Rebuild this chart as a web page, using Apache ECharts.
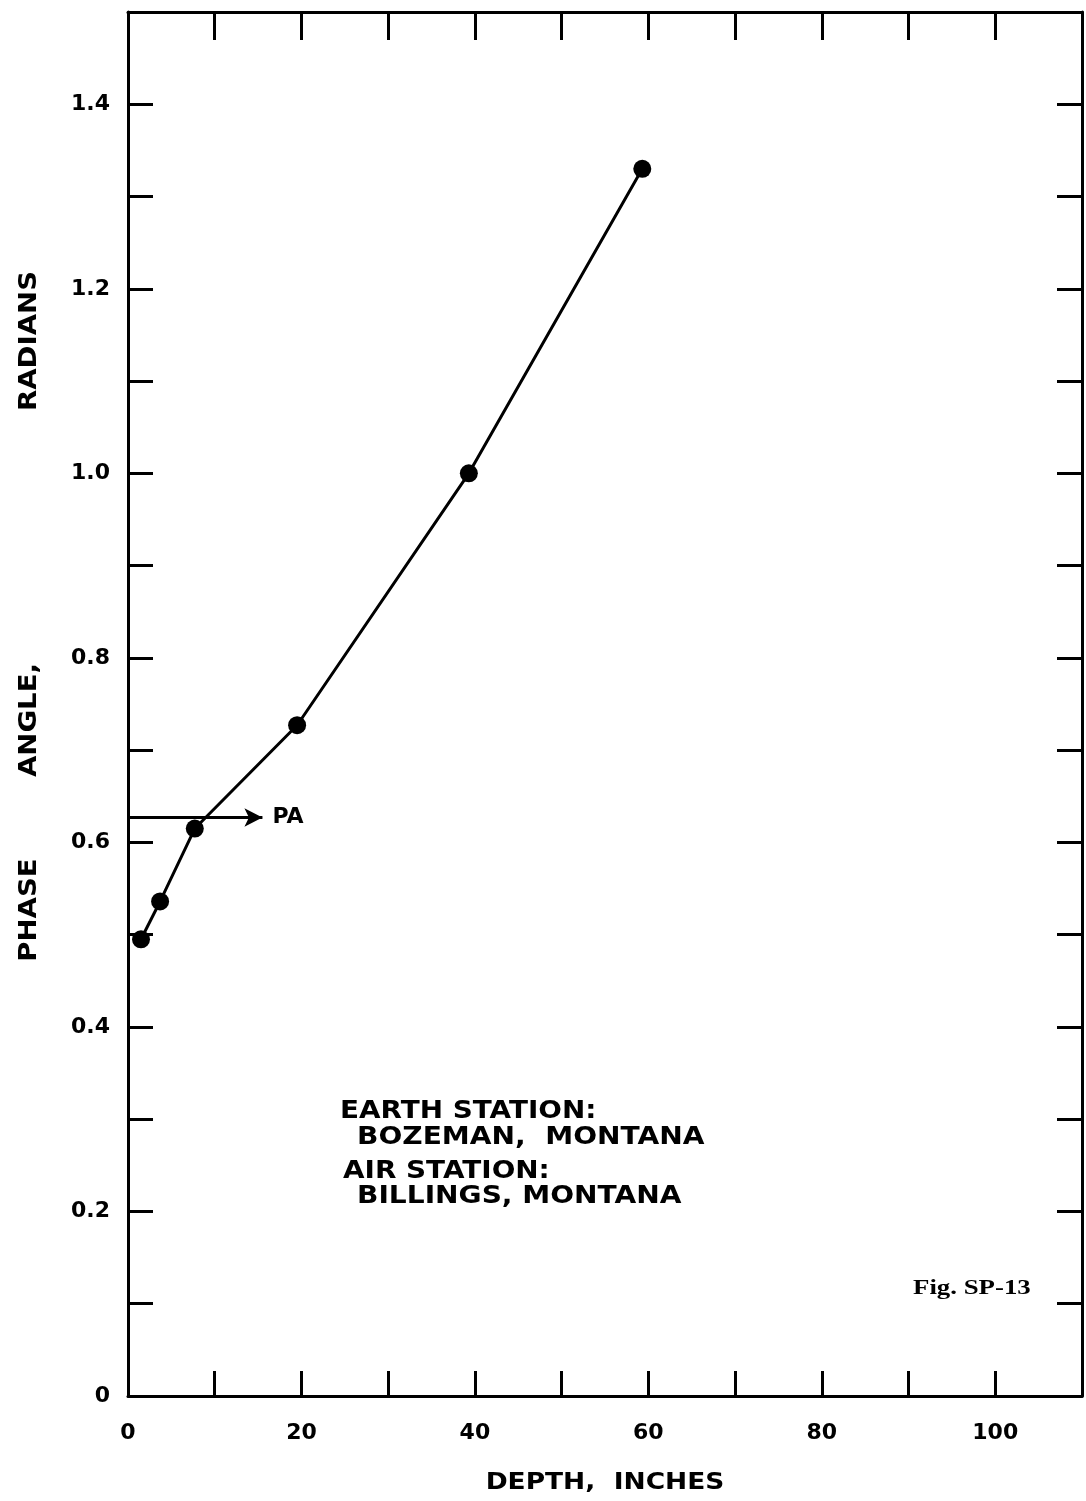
<!DOCTYPE html>
<html>
<head>
<meta charset="utf-8">
<script src="https://cdn.jsdelivr.net/npm/echarts@6/dist/echarts.min.js"></script>
<style>
html,body{margin:0;padding:0;background:#fff;}
#c{width:1086px;height:1501px;}
</style>
</head>
<body>
<div id="c"></div>
<script>
// ---- data ----
const depthInches = [1.5, 3.7, 7.7, 19.5, 39.3, 59.3];
const phaseRadians = [0.495, 0.536, 0.615, 0.727, 1.0, 1.33];
const paLevel = 0.627;
const paArrowEnd = 15.5;
const paLabel = 'PA';
const xTickStep = 10, xMax = 110;
const yTickStep = 0.1, yMax = 1.5;
const xAxisTitle = 'DEPTH,  INCHES';
const yAxisWords = ['PHASE', 'ANGLE,', 'RADIANS'];
const noteLines = ['EARTH STATION:', 'BOZEMAN,  MONTANA', 'AIR STATION:', 'BILLINGS, MONTANA'];
const figLabel = 'Fig. SP-13';

const FONT = '"DejaVu Sans", sans-serif';
const chart = echarts.init(document.getElementById('c'), null, {renderer: 'canvas'});

const pts = depthInches.map((d, i) => [d, phaseRadians[i]]);

const tickStyle = {show: true, inside: true, length: 25, lineStyle: {color: '#000', width: 3}};
const lineStyle = {show: true, onZero: false, lineStyle: {color: '#000', width: 3}};

function txt(text, x, y, size, opts) {
  return Object.assign({
    type: 'text', x: x, y: y, silent: true,
    style: {text: text, fill: '#000', font: 'bold ' + size + 'px ' + FONT, verticalAlign: 'middle'}
  }, opts || {});
}
function vtxt(text, x, y) {
  return {type: 'text', x: x, y: y, silent: true, rotation: Math.PI / 2, scaleX: 1.15,
    style: {text: text, fill: '#000', font: 'bold 24px ' + FONT, align: 'center', verticalAlign: 'middle'}};
}

const option = {
  animation: false,
  backgroundColor: '#fff',
  grid: {left: 128, right: 4, top: 12, bottom: 105, containLabel: false},
  xAxis: [{
    type: 'value', min: 0, max: xMax, interval: xTickStep, position: 'bottom',
    axisLine: lineStyle, axisTick: tickStyle, splitLine: {show: false},
    axisLabel: {
      show: true, margin: 26, color: '#000', fontFamily: FONT, fontWeight: 'bold', fontSize: 22,
      formatter: v => (Math.round(v) % 20 === 0 ? String(Math.round(v)) : '')
    }
  }, {
    type: 'value', min: 0, max: xMax, interval: xTickStep, position: 'top',
    axisLine: lineStyle, axisTick: Object.assign({}, tickStyle, {length: 28}),
    splitLine: {show: false}, axisLabel: {show: false}
  }],
  yAxis: [{
    type: 'value', min: 0, max: yMax, interval: yTickStep, position: 'left',
    axisLine: lineStyle, axisTick: tickStyle, splitLine: {show: false},
    axisLabel: {
      show: true, margin: 18, color: '#000', fontFamily: FONT, fontWeight: 'bold', fontSize: 22,
      formatter: v => {
        const k = Math.round(v * 10);
        if (k === 0) return '0';
        return k % 2 === 0 ? (k / 10).toFixed(1) : '';
      }
    }
  }, {
    type: 'value', min: 0, max: yMax, interval: yTickStep, position: 'right',
    axisLine: lineStyle, axisTick: tickStyle, splitLine: {show: false}, axisLabel: {show: false}
  }],
  series: [{
    type: 'line',
    xAxisIndex: 0, yAxisIndex: 0,
    data: pts,
    symbol: 'circle', symbolSize: 18,
    itemStyle: {color: '#000'},
    lineStyle: {color: '#000', width: 3},
    z: 5,
    markLine: {
      silent: true, animation: false,
      symbol: ['none', 'arrow'], symbolSize: [14, 18],
      lineStyle: {color: '#000', width: 3, type: 'solid'},
      label: {
        show: true, position: 'end', formatter: paLabel, distance: 10,
        color: '#000', fontFamily: FONT, fontWeight: 'bold', fontSize: 22
      },
      data: [[{coord: [0, paLevel]}, {coord: [paArrowEnd, paLevel]}]]
    }
  }],
  graphic: [
    vtxt(yAxisWords[0], 30, 910),
    vtxt(yAxisWords[1], 30, 720),
    vtxt(yAxisWords[2], 30, 341),
    txt(xAxisTitle, 605, 1483, 23, {scaleX: 1.15, style: {text: xAxisTitle, fill: '#000', font: 'bold 23px ' + FONT, align: 'center', verticalAlign: 'middle'}}),
    txt(noteLines[0], 340, 1112, 24, {scaleX: 1.16}),
    txt(noteLines[1], 357, 1138, 24, {scaleX: 1.17}),
    txt(noteLines[2], 343, 1172, 24, {scaleX: 1.16}),
    txt(noteLines[3], 357, 1197, 24, {scaleX: 1.17}),
    {type: 'text', x: 913, y: 1288, silent: true, scaleX: 1.22,
     style: {text: figLabel, fill: '#000', font: 'bold 22px "Liberation Serif", serif', verticalAlign: 'middle'}}
  ]
};
chart.setOption(option);
</script>
</body>
</html>
